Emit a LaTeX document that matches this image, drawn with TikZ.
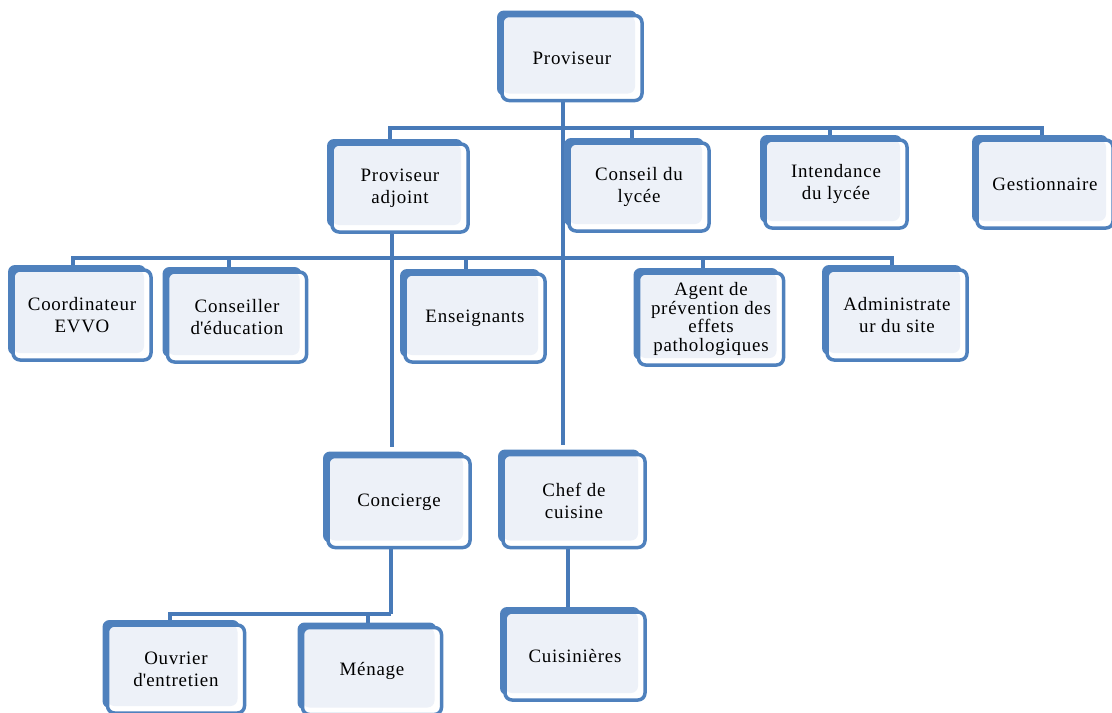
\documentclass[tikz,border=0pt]{standalone}
\usepackage{fontspec}
\setmainfont{Liberation Serif}[LetterSpace=4]
\usetikzlibrary{shadows,backgrounds}
\definecolor{orgblue}{RGB}{79,129,189}
\definecolor{orgline}{RGB}{72,122,184}
\definecolor{orgfill}{RGB}{237,241,248}
\tikzset{
  orgbox/.style={draw=orgblue,line width=3.5bp,fill=white,rounded corners=7bp,
    general shadow={fill=orgblue,shadow xshift=-5bp,shadow yshift=5bp},
    path picture={\fill[orgfill] (path picture bounding box.north west) rectangle ([xshift=-7bp,yshift=7bp]path picture bounding box.south east);},
    minimum width=138bp,minimum height=88bp,inner sep=2bp,align=center,
    font=\fontsize{19}{22}\selectfont},
  orglink/.style={draw=orgline,line width=3.5bp},
}
\begin{document}
\begin{tikzpicture}[line join=bevel,]
\useasboundingbox (0bp,0bp) rectangle (1112bp,-713bp);
%%
\node (proviseur) at (572bp,-58bp) [orgbox,minimum width=140bp,minimum height=85bp] {Proviseur};
  \node (adjoint) at (400bp,-188bp) [orgbox,minimum width=136bp] {Proviseur\\adjoint};
  \node (conseil) at (639bp,-187bp) [orgbox,minimum width=140bp] {Conseil du\\lycée};
  \node (intendance) at (836bp,-184bp) [orgbox,minimum width=142bp] {Intendance\\du lycée};
  \node (gestion) at (1045bp,-184bp) [orgbox,minimum width=136bp] {Gestionnaire};
%
\node (coordinateur) at (82bp,-315bp) [orgbox,minimum height=90bp] {Coordinateur\\EVVO};
  \node (conseiller) at (237bp,-317bp) [orgbox,minimum width=139bp,minimum height=90bp] {Conseiller\\d\textquotesingle éducation};
  \node (enseignants) at (475bp,-318bp) [orgbox,minimum width=140bp] {Enseignants};
  \node (agent) at (711bp,-319bp) [orgbox,minimum width=145bp,minimum height=92bp,font=\fontsize{19}{19}\selectfont] {Agent de\\prévention des\\effets\\pathologiques};
  \node (administrateur) at (897bp,-315bp) [orgbox,minimum width=140bp,minimum height=90bp] {Administrate\\ur du site};
%
\node (concierge) at (399bp,-502bp) [orgbox,minimum width=142bp,minimum height=91bp] {Concierge};
  \node (chef) at (574bp,-501bp) [orgbox,minimum width=142bp,minimum height=93bp] {Chef de\\cuisine};
%
\node (ouvrier) at (176bp,-669bp) [orgbox,minimum width=137bp] {Ouvrier\\d\textquotesingle entretien};
  \node (menage) at (372bp,-671bp) [orgbox,minimum width=139bp,minimum height=87bp] {Ménage};
  \node (cuisinieres) at (575bp,-656bp) [orgbox,minimum width=140bp] {Cuisinières};
%
\begin{scope}[on background layer]
  \coordinate (bus_prov) at (563bp,-128bp);
  \coordinate (bus_adj) at (392bp,-258bp);
  \coordinate (bus_conc) at (391bp,-614bp);
  \draw [orglink] ([xshift=-9bp]proviseur.south) -- ([xshift=-9bp,yshift=8bp]proviseur.south |- chef.north);
  \draw [orglink] (bus_prov) -| ([xshift=-10bp]adjoint.north);
  \draw [orglink] (bus_prov) -| ([xshift=-7bp]conseil.north);
  \draw [orglink] (bus_prov) -| ([xshift=-6bp]intendance.north);
  \draw [orglink] (bus_prov) -| ([xshift=-3bp]gestion.north);
  %
  \draw [orglink] ([xshift=-8bp]adjoint.south) -- ([xshift=-8bp,yshift=8bp]adjoint.south |- concierge.north);
  \draw [orglink] (bus_adj) -| ([xshift=-9bp]coordinateur.north);
  \draw [orglink] (bus_adj) -| ([xshift=-8bp]conseiller.north);
  \draw [orglink] (bus_adj) -| ([xshift=-9bp]enseignants.north);
  \draw [orglink] (bus_adj) -| ([xshift=-8bp]agent.north);
  \draw [orglink] (bus_adj) -| ([xshift=-5bp]administrateur.north);
  %
  \draw [orglink] ([xshift=-8bp]concierge.south) -- (bus_conc);
  \draw [orglink] (bus_conc) -| ([xshift=-6bp]ouvrier.north);
  \draw [orglink] (bus_conc) -| ([xshift=-4bp]menage.north);
  \draw [orglink] ([xshift=-6bp]chef.south) -- ([xshift=-6bp]chef.south |- cuisinieres.north);
\end{scope}
%
\end{tikzpicture}
\end{document}
